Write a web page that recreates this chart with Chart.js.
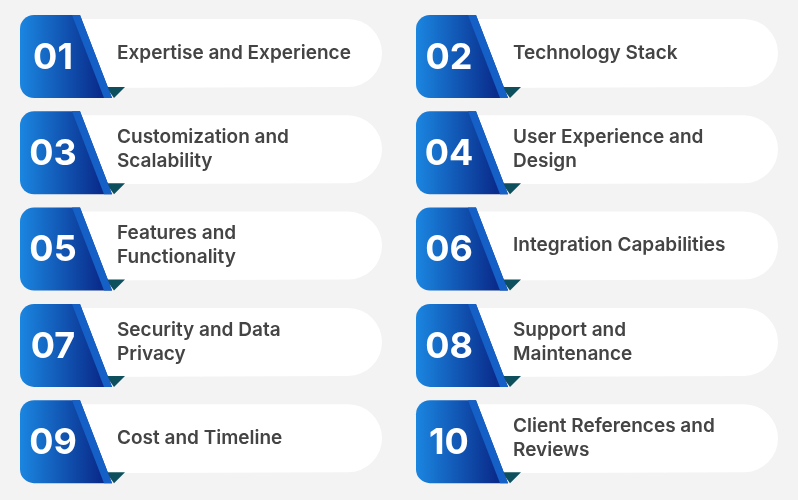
<!DOCTYPE html>
<html>
<head>
<meta charset="utf-8">
<script src="https://cdn.jsdelivr.net/npm/chart.js@4"></script>
<style>
  body { margin: 0; background: #f3f3f3; }
  #wrap { width: 798px; height: 500px; }
</style>
</head>
<body>
<div id="wrap"><canvas id="chart"></canvas></div>
<script>
// Datos de las tarjetas
const numbers = ['01', '02', '03', '04', '05', '06', '07', '08', '09', '10'];
const titles = [
    ['Expertise and Experience'], ['Technology Stack'],
    ['Customization and', 'Scalability'], ['User Experience and', 'Design'],
    ['Features and', 'Functionality'], ['Integration Capabilities'],
    ['Security and Data', 'Privacy'], ['Support and', 'Maintenance'],
    ['Cost and Timeline'], ['Client References and', 'Reviews']
];
const columns = [0, 1, 0, 1, 0, 1, 0, 1, 0, 1];
const rows = [0, 0, 1, 1, 2, 2, 3, 3, 4, 4];

function roundPill(ctx, x, y, w, h, r) {
    ctx.beginPath();
    ctx.moveTo(x, y);
    ctx.lineTo(x + w - r, y);
    ctx.arc(x + w - r, y + r, r, -Math.PI / 2, Math.PI / 2);
    ctx.lineTo(x, y + h);
    ctx.closePath();
}

// Plugin que dibuja cada tarjeta en la posición del punto
const cardsPlugin = {
    id: 'cards',
    afterDatasetsDraw(chart) {
        const ctx = chart.ctx;
        const xs = chart.scales.x, ys = chart.scales.y;
        numbers.forEach((num, i) => {
            const cx = xs.getPixelForValue(columns[i]);
            const cy = ys.getPixelForValue(rows[i]);
            const L = cx - 181, T = cy - 42;
            ctx.save();
            // pastilla blanca
            ctx.fillStyle = '#ffffff';
            roundPill(ctx, L + 60, T + 4, 302, 69, 34);
            ctx.fill();
            // triángulo oscuro
            ctx.fillStyle = '#0d4f5c';
            ctx.beginPath();
            ctx.moveTo(L + 86, T + 72);
            ctx.lineTo(L + 105, T + 72);
            ctx.lineTo(L + 94, T + 83);
            ctx.closePath();
            ctx.fill();
            // insignia azul
            const g = ctx.createLinearGradient(L, 0, L + 80, 0);
            g.addColorStop(0, '#1a86e0');
            g.addColorStop(1, '#0a2c8c');
            ctx.fillStyle = g;
            const r = 14;
            ctx.beginPath();
            ctx.moveTo(L + r, T);
            ctx.lineTo(L + 60, T);
            ctx.lineTo(L + 92, T + 83);
            ctx.lineTo(L + r, T + 83);
            ctx.arcTo(L, T + 83, L, T + 83 - r, r);
            ctx.lineTo(L, T + r);
            ctx.arcTo(L, T, L + r, T, r);
            ctx.closePath();
            ctx.fill();
            // franja clara en la diagonal
            ctx.fillStyle = '#1560c6';
            ctx.beginPath();
            ctx.moveTo(L + 52, T);
            ctx.lineTo(L + 60, T);
            ctx.lineTo(L + 92, T + 83);
            ctx.lineTo(L + 84, T + 83);
            ctx.closePath();
            ctx.fill();
            // número
            ctx.fillStyle = '#ffffff';
            ctx.font = 'bold 36px Inter, "Open Sans", sans-serif';
            ctx.textAlign = 'center';
            ctx.textBaseline = 'middle';
            ctx.fillText(num, L + 33, cy + 1);
            // título
            ctx.fillStyle = '#444444';
            ctx.font = '600 19px Inter, "Open Sans", sans-serif';
            ctx.textAlign = 'left';
            const lines = titles[i];
            lines.forEach((t, k) => {
                ctx.fillText(t, L + 97, cy - 4 + (k - (lines.length - 1) / 2) * 24);
            });
            ctx.restore();
        });
    }
};

new Chart(document.getElementById('chart'), {
    type: 'scatter',
    data: {
        datasets: [{
            data: numbers.map((_, i) => ({ x: columns[i], y: rows[i] })),
            pointRadius: 0
        }]
    },
    options: {
        responsive: true,
        maintainAspectRatio: false,
        animation: false,
        layout: { padding: 0 },
        plugins: { legend: { display: false }, tooltip: { enabled: false } },
        scales: {
            x: { display: false, min: -0.5076, max: 1.5076 },
            y: { display: false, reverse: true, min: -0.592, max: 4.6 }
        }
    },
    plugins: [cardsPlugin]
});
</script>
</body>
</html>
